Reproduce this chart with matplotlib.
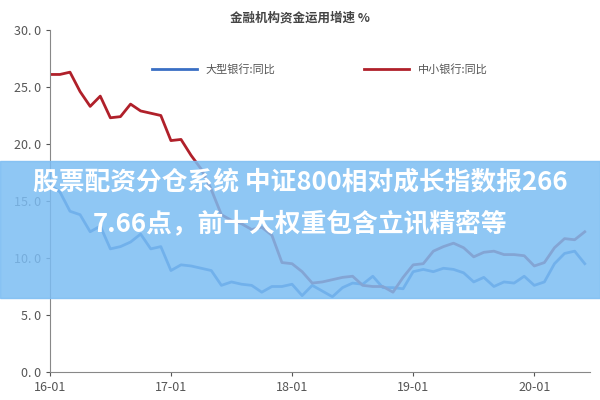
import matplotlib
matplotlib.use("Agg")
import matplotlib.pyplot as plt
from matplotlib.patches import Rectangle

plt.rcParams['font.family'] = ['Noto Sans CJK SC', 'DejaVu Sans']

months = list(range(54))
xtick_pos = [0, 12, 24, 36, 48]
xtick_labels = ["16-01", "17-01", "18-01", "19-01", "20-01"]
big = [16.4, 15.8, 14.1, 13.8, 12.3, 12.8, 10.8, 11.0, 11.4, 12.1, 10.8, 11.0,
       8.9, 9.4, 9.3, 9.1, 8.9, 7.6, 7.9, 7.7, 7.6, 7.0, 7.5, 7.5,
       7.7, 6.7, 7.6, 7.1, 6.6, 7.4, 7.8, 7.7, 8.4, 7.4, 7.4, 7.3,
       8.8, 9.0, 8.8, 9.1, 9.0, 8.7, 7.9, 8.3, 7.5, 7.9, 7.8, 8.4,
       7.6, 7.9, 9.5, 10.4, 10.6, 9.5]
small = [26.1, 26.1, 26.3, 24.6, 23.3, 24.2, 22.3, 22.4, 23.5, 22.9, 22.7, 22.5,
         20.3, 20.4, 19.0, 17.8, 16.0, 13.8, 13.3, 13.0, 12.5, 12.7, 12.0, 9.6,
         9.5, 8.8, 7.8, 7.9, 8.1, 8.3, 8.4, 7.6, 7.5, 7.5, 7.0, 8.3,
         9.4, 9.5, 10.6, 11.0, 11.3, 10.9, 10.1, 10.5, 10.6, 10.3, 10.3, 10.2,
         9.3, 9.6, 10.9, 11.7, 11.6, 12.3]
yticks = [0, 5, 10, 15, 20, 25, 30]
ytick_labels = ["0. 0", "5. 0", "10. 0", "15. 0", "20. 0", "25. 0", "30. 0"]

fig = plt.figure(figsize=(6, 4), dpi=100)
ax = fig.add_axes([0.083, 0.07, 0.9, 0.855])
ax.plot(months, big, color='#3a6fc4', lw=2, label='大型银行:同比')
ax.plot(months, small, color='#b0202a', lw=2, label='中小银行:同比')
ax.set_xlim(0, 53.5)
ax.set_ylim(0, 30)
ax.set_xticks(xtick_pos)
ax.set_xticklabels(xtick_labels)
ax.set_yticks(yticks)
ax.set_yticklabels(ytick_labels)
ax.tick_params(colors='#555555', labelsize=9, length=3)
for s in ['top', 'right']:
    ax.spines[s].set_visible(False)
for s in ['left', 'bottom']:
    ax.spines[s].set_color('#888888')
ax.legend(loc='upper center', bbox_to_anchor=(0.5, 0.93), ncol=2, frameon=False,
          fontsize=8, columnspacing=8, handlelength=4, labelcolor='#555555')
fig.text(0.5, 0.955, '金融机构资金运用增速 %', ha='center', va='center',
         fontsize=9, color='#444444', fontweight='bold')

fig.patches.append(Rectangle((0, 0.255), 1, 0.343, transform=fig.transFigure,
                             color='#7cbdf3', alpha=0.85, zorder=5))
fig.text(0.5, 0.542, '股票配资分仓系统 中证800相对成长指数报266', ha='center', va='center',
         fontsize=18.5, color='white', fontweight='bold', zorder=6)
fig.text(0.5, 0.437, '7.66点，前十大权重包含立讯精密等', ha='center', va='center',
         fontsize=18.5, color='white', fontweight='bold', zorder=6)
fig.savefig('out.png', dpi=100)
